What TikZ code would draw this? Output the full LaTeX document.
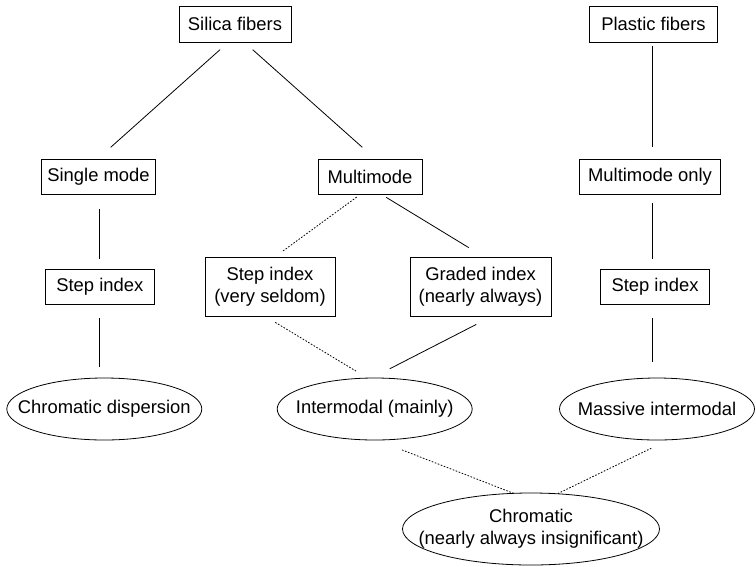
\documentclass[tikz,border=0pt]{standalone}
\usepackage{fontspec}
\setmainfont{Liberation Sans}
\usetikzlibrary{calc}
\begin{document}
\begin{tikzpicture}[x=1pt,y=1pt,
  box/.style={draw,line width=0.8pt,inner sep=0pt,align=center,font=\fontsize{18.4}{22}\selectfont},
  oval/.style={inner sep=0pt,align=center,font=\fontsize{18.4}{22}\selectfont},
  ovalline/.style={line width=0.8pt},
  link/.style={line width=0.8pt},
  dotlink/.style={line width=0.8pt,dash pattern=on 1.6pt off 1.6pt}]
\useasboundingbox (0,0) rectangle (756,-566);
% boxes
\node[box,minimum width=112,minimum height=36] (sil) at (235,-24) {Silica fibers};
\node[box,minimum width=128,minimum height=36] (pla) at (653.5,-24) {Plastic fibers};
\node[box,minimum width=114,minimum height=35] (sm) at (98.5,-176.5) {Single mode};
\node[box,minimum width=104,minimum height=35] (mm) at (370,-176.5) {Multimode};
\node[box,minimum width=141,minimum height=35] (mmo) at (650,-176.5) {Multimode only};
\node[box,minimum width=109,minimum height=35] (si1) at (99.8,-287) {Step index};
\node[box,minimum width=130,minimum height=59] (si2) at (270,-286.5) {Step index\\(very seldom)};
\node[box,minimum width=141,minimum height=59] (gi) at (480.5,-286.5) {Graded index\\(nearly always)};
\node[box,minimum width=109,minimum height=35] (si3) at (655,-287) {Step index};
% ellipses
\node[oval,minimum width=195,minimum height=62] (cd) at (104.3,-409) {Chromatic dispersion};
\node[oval,minimum width=195,minimum height=62] (im) at (374.7,-409) {Intermodal (mainly)};
\node[oval,minimum width=195,minimum height=62] (mi) at (657,-409) {Massive intermodal};
\node[oval,minimum width=257,minimum height=72] (ch) at (531,-529) {Chromatic\\(nearly always insignificant)};
\draw[ovalline] (cd.center) ellipse [x radius=97.5, y radius=31];
\draw[ovalline] (im.center) ellipse [x radius=97.5, y radius=31];
\draw[ovalline] (mi.center) ellipse [x radius=97.5, y radius=31];
\draw[ovalline] (ch.center) ellipse [x radius=128.5, y radius=36];
% connectors
\draw[link] ($(sil.south)+(-15,-7.3)$) -- ($(sm.north)+(12.2,11.3)$);
\draw[link] ($(sil.south)+(17.7,-7.3)$) -- ($(mm.north)+(-7.7,11.3)$);
\draw[link] ($(pla.south)+(-0.8,-4)$) -- ($(mmo.north)+(2.7,12)$);
\draw[link] ($(sm.south)+(0.5,-15)$) -- ($(si1.north)+(-0.8,10.2)$);
\draw[dotlink] ($(mm.south)+(-13.3,-2.7)$) -- ($(si2.north)+(11.7,4.7)$);
\draw[link] ($(mm.south)+(16.3,-3)$) -- ($(gi.north)+(-11.8,9)$);
\draw[link] ($(mmo.south)+(2.7,-8.3)$) -- ($(si3.north)+(-2.3,10.2)$);
\draw[link] ($(si1.south)+(-0.8,-13.5)$) -- ($(cd.north)+(-5.3,10.7)$);
\draw[dotlink] ($(si2.south)+(5.3,-6)$) -- ($(im.north)+(-18.7,6.7)$);
\draw[link] ($(gi.south)+(-4.2,-8)$) -- ($(im.north)+(15,9)$);
\draw[link] ($(si3.south)+(-2.3,-13.5)$) -- ($(mi.north)+(-4.3,15.7)$);
\draw[dotlink] ($(im.south)+(27.3,-9.7)$) -- ($(ch.north)+(-17,-0.7)$);
\draw[dotlink] ($(mi.south)+(-5.7,-8)$) -- ($(ch.north)+(27,-0.7)$);
\end{tikzpicture}
\end{document}
